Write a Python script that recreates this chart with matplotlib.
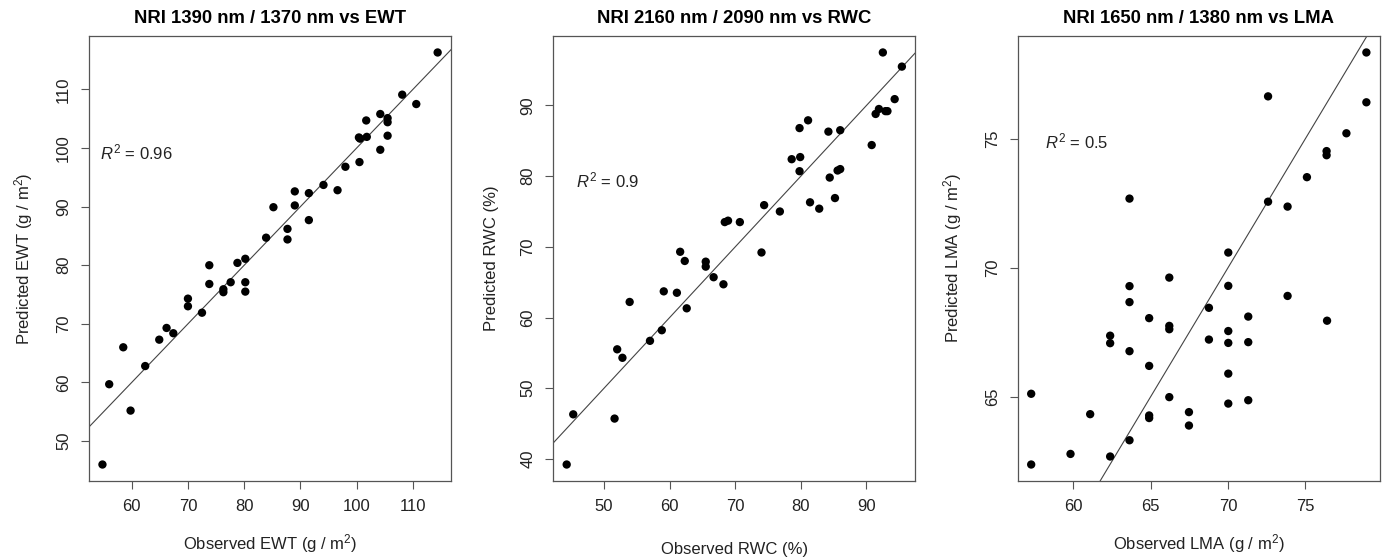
import numpy as np
import matplotlib
matplotlib.use("Agg")
import matplotlib.pyplot as plt

plt.rcParams["font.family"] = ["Liberation Sans", "DejaVu Sans"]
plt.rcParams["mathtext.fontset"] = "custom"
plt.rcParams["mathtext.rm"] = "Liberation Sans"
plt.rcParams["mathtext.it"] = "Liberation Sans:italic"

# EWT panel: observed vs predicted (g/m2)
ewt_obs = [114.4, 108.1, 110.6, 104.2, 101.7, 105.5, 105.5, 100.4, 100.6, 101.8,
           105.5, 104.2, 100.5, 98.0, 94.1, 96.6, 89.0, 91.5, 89.0, 85.2,
           91.5, 87.7, 87.7, 83.9, 80.2, 78.8, 73.8, 73.8, 77.6, 76.3,
           76.3, 80.2, 80.2, 70.0, 70.0, 72.5, 66.2, 67.4, 64.9, 58.5,
           62.4, 56.0, 59.8, 54.8]
ewt_pred = [116.3, 109.1, 107.5, 105.8, 104.7, 105.1, 104.4, 101.8, 101.6, 101.9,
            102.1, 99.7, 97.6, 96.8, 93.7, 92.8, 92.6, 92.3, 90.2, 89.9,
            87.7, 86.2, 84.4, 84.7, 81.1, 80.4, 80.0, 76.8, 77.1, 75.9,
            75.4, 77.1, 75.5, 74.3, 73.0, 71.9, 69.3, 68.4, 67.3, 66.0,
            62.8, 59.7, 55.2, 46.0]

# RWC panel (%)
rwc_obs = [92.5, 95.4, 94.3, 91.9, 91.4, 92.9, 93.2, 90.8, 81.1, 79.8,
           84.2, 86.0, 78.6, 79.9, 79.8, 84.4, 85.6, 86.0, 85.2, 81.4,
           82.8, 76.8, 74.4, 70.7, 68.9, 68.4, 74.0, 61.6, 62.3, 65.5,
           65.5, 66.7, 68.2, 59.1, 61.1, 53.9, 62.6, 58.8, 57.0, 52.0,
           52.8, 45.3, 51.6, 44.3]
rwc_pred = [97.5, 95.5, 90.9, 89.5, 88.8, 89.2, 89.2, 84.4, 87.9, 86.8,
            86.3, 86.5, 82.4, 82.7, 80.7, 79.8, 80.8, 81.0, 76.9, 76.3,
            75.4, 75.0, 75.9, 73.5, 73.7, 73.5, 69.2, 69.3, 68.0, 67.9,
            67.2, 65.7, 64.7, 63.7, 63.5, 62.2, 61.3, 58.2, 56.7, 55.5,
            54.3, 46.3, 45.7, 39.2]

# LMA panel (g/m2)
lma_obs = [78.94, 78.94, 72.59, 77.65, 76.37, 76.37, 75.10, 72.59, 73.85, 63.64,
           70.02, 66.21, 63.64, 70.02, 73.85, 63.64, 68.77, 64.91, 71.31, 76.40,
           66.21, 66.21, 70.02, 62.39, 62.39, 68.77, 70.02, 71.31, 63.64, 64.91,
           70.02, 57.29, 66.21, 70.02, 71.31, 61.10, 64.91, 64.91, 67.48, 67.48,
           63.64, 59.83, 62.39, 57.29]
lma_pred = [78.34, 76.41, 76.64, 75.21, 74.52, 74.36, 73.51, 72.56, 72.37, 72.68,
            70.59, 69.62, 69.29, 69.30, 68.91, 68.67, 68.45, 68.05, 68.11, 67.95,
            67.75, 67.62, 67.55, 67.37, 67.08, 67.22, 67.09, 67.12, 66.77, 66.20,
            65.90, 65.12, 64.99, 64.74, 64.87, 64.33, 64.28, 64.18, 64.41, 63.89,
            63.32, 62.79, 62.69, 62.38]

titles = ["NRI 1390 nm / 1370 nm vs EWT",
          "NRI 2160 nm / 2090 nm vs RWC",
          "NRI 1650 nm / 1380 nm vs LMA"]
xlabels = ["Observed EWT (g / m$^2$)", "Observed RWC (%)", "Observed LMA (g / m$^2$)"]
ylabels = ["Predicted EWT (g / m$^2$)", "Predicted RWC (%)", "Predicted LMA (g / m$^2$)"]
r2_labels = [r"$R^2$ = 0.96", r"$R^2$ = 0.9", r"$R^2$ = 0.5"]
r2_pos = [(54.35, 99.3), (45.7, 79.45), (58.19, 74.88)]
xticks = [[60, 70, 80, 90, 100, 110], [50, 60, 70, 80, 90], [60, 65, 70, 75]]
yticks = [[50, 60, 70, 80, 90, 100, 110], [40, 50, 60, 70, 80, 90], [65, 70, 75]]
xlabelpads = [13, 20, 13]

obs_all = [ewt_obs, rwc_obs, lma_obs]
pred_all = [ewt_pred, rwc_pred, lma_pred]

fig = plt.figure(figsize=(13.87, 5.58), dpi=100)
lefts = [0.0642, 0.3989, 0.7338]
frame = "#555555"

for i in range(3):
    ax = fig.add_axes([lefts[i], 0.138, 0.261, 0.7975])
    x = np.array(obs_all[i])
    y = np.array(pred_all[i])
    # R-style 4% padding
    xr = x.max() - x.min()
    yr = y.max() - y.min()
    xlim = (x.min() - 0.04 * xr, x.max() + 0.04 * xr)
    ylim = (y.min() - 0.04 * yr, y.max() + 0.04 * yr)

    ax.scatter(x, y, s=36, c="black", edgecolors="none", zorder=3)
    lo = min(xlim[0], ylim[0])
    hi = max(xlim[1], ylim[1])
    ax.plot([lo, hi], [lo, hi], color="#444444", lw=0.8, zorder=2)
    ax.set_xlim(xlim)
    ax.set_ylim(ylim)

    ax.set_xticks(xticks[i])
    ax.set_yticks(yticks[i])
    ax.tick_params(direction="out", length=6, width=0.8, color=frame,
                   labelsize=12, pad=7, labelcolor="#222222")
    for lab in ax.get_yticklabels():
        lab.set_rotation(90)
        lab.set_va("center")
    for s in ax.spines.values():
        s.set_color(frame)
        s.set_linewidth(0.9)

    ax.set_title(titles[i], fontsize=13.3, fontweight="bold", pad=9)
    ax.set_xlabel(xlabels[i], fontsize=12, labelpad=xlabelpads[i], color="#222222")
    ax.set_ylabel(ylabels[i], fontsize=12, labelpad=15, color="#222222")
    ax.text(r2_pos[i][0], r2_pos[i][1], r2_labels[i], fontsize=12,
            ha="left", va="center", color="#222222")

fig.savefig("out.png", dpi=100)
